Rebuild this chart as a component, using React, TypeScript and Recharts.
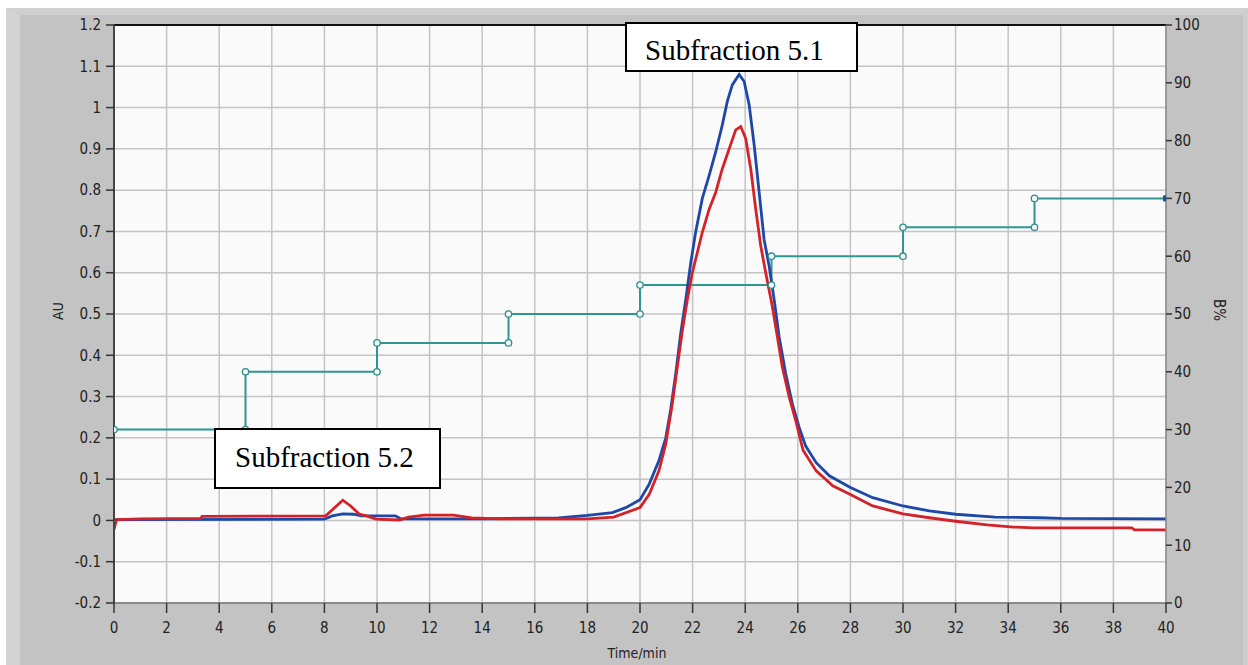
import React from 'react';
import { ComposedChart, Line, XAxis, YAxis, CartesianGrid, ReferenceLine } from 'recharts';

// Time ticks (min), AU ticks, B% ticks
const timeTicks = [0, 2, 4, 6, 8, 10, 12, 14, 16, 18, 20, 22, 24, 26, 28, 30, 32, 34, 36, 38, 40];
const auTicks = [-0.2, -0.1, 0, 0.1, 0.2, 0.3, 0.4, 0.5, 0.6, 0.7, 0.8, 0.9, 1.0, 1.1, 1.2];
const bTicks = [0, 10, 20, 30, 40, 50, 60, 70, 80, 90, 100];

// Blue trace
const blueTime = [0, 8.0, 8.3, 8.7, 9.1, 9.4, 10.7, 10.9, 14, 16.9, 18, 18.95, 19.46, 20, 20.35, 20.72, 20.98, 21.17, 21.36, 21.55, 21.74, 21.93, 22.12, 22.37, 22.63, 22.88, 23.13, 23.32, 23.51, 23.77, 23.96, 24.15, 24.34, 24.53, 24.72, 24.91, 25.1, 25.29, 25.54, 25.79, 26.05, 26.3, 26.7, 27.2, 28, 28.85, 30, 31, 32, 33.5, 35.2, 36, 40];
const blueAU = [0.002, 0.003, 0.011, 0.016, 0.015, 0.011, 0.011, 0.004, 0.004, 0.006, 0.012, 0.019, 0.031, 0.05, 0.088, 0.145, 0.2, 0.27, 0.356, 0.454, 0.535, 0.624, 0.7, 0.78, 0.836, 0.893, 0.958, 1.015, 1.055, 1.08, 1.063, 1.007, 0.91, 0.795, 0.68, 0.616, 0.535, 0.445, 0.356, 0.283, 0.226, 0.18, 0.14, 0.108, 0.08, 0.055, 0.035, 0.023, 0.015, 0.008, 0.0065, 0.005, 0.004];

// Red trace
const redTime = [0, 0.08, 0.12, 1.0, 3.3, 3.35, 8.05, 8.2, 8.7, 9.0, 9.33, 9.6, 9.96, 10.85, 11.2, 11.8, 12.9, 13.6, 14.7, 18, 19, 20, 20.35, 20.72, 20.98, 21.23, 21.42, 21.61, 21.8, 21.99, 22.18, 22.37, 22.63, 22.88, 23.13, 23.39, 23.64, 23.83, 24.02, 24.21, 24.4, 24.59, 24.78, 25.03, 25.22, 25.41, 25.67, 25.92, 26.2, 26.7, 27.33, 28, 28.85, 30, 31, 32, 33.2, 34.2, 35, 38.7, 38.8, 40];
const redAU = [-0.022, -0.002, 0.002, 0.004, 0.005, 0.01, 0.011, 0.02, 0.049, 0.035, 0.015, 0.011, 0.003, 0.001, 0.008, 0.013, 0.013, 0.006, 0.004, 0.004, 0.008, 0.031, 0.063, 0.12, 0.185, 0.283, 0.372, 0.46, 0.535, 0.6, 0.649, 0.698, 0.754, 0.795, 0.852, 0.9, 0.946, 0.954, 0.925, 0.852, 0.754, 0.665, 0.6, 0.519, 0.446, 0.372, 0.3, 0.242, 0.17, 0.12, 0.084, 0.063, 0.035, 0.016, 0.0065, -0.002, -0.011, -0.016, -0.018, -0.018, -0.023, -0.023];

// Gradient B% (step program)
const gradTime = [0, 5, 5, 10, 10, 15, 15, 20, 20, 25, 25, 30, 30, 35, 35, 40];
const gradB = [30, 30, 40, 40, 45, 45, 50, 50, 55, 55, 60, 60, 65, 65, 70, 70];

const blueData = blueTime.map((t, i) => ({ t, v: blueAU[i] }));
const redData = redTime.map((t, i) => ({ t, v: redAU[i] }));
const gradData = gradTime.map((t, i) => ({ t, b: gradB[i] }));

const TICK_FONT = "'DejaVu Sans Condensed', 'Liberation Sans Narrow', 'DejaVu Sans', sans-serif";
const tickStyle = { fontFamily: TICK_FONT, fontSize: 15, fill: '#222' };

const GradDot = (props: any) => {
  const { cx, cy, index } = props;
  if (cx == null || cy == null) return <g key={`d${index}`} />;
  if (index === gradData.length - 1) {
    return <rect key={`d${index}`} x={cx - 3} y={cy - 3} width={6} height={6} fill="#1f4fa0" />;
  }
  return <circle key={`d${index}`} cx={cx} cy={cy} r={3.2} fill="#f4f4f4" stroke="#2f8f8a" strokeWidth={1.3} />;
};

export default function App() {
  return (
    <div style={{ position: 'absolute', left: 0, top: 0, width: 1248, height: 665, background: '#ffffff', overflow: 'hidden' }}>
      <div style={{ position: 'absolute', left: 6, top: 8, width: 1242, height: 657, background: '#c3c3c3', boxSizing: 'border-box', borderLeft: '14px solid #d3d3d3', borderTop: '7px solid #d0d0d0', borderRight: '5px solid #cecece' }} />
      <div style={{ position: 'absolute', left: 0, top: 0 }}>
        <ComposedChart width={1248} height={665} margin={{ top: 25, right: 0, bottom: 0, left: 0 }}>
          <CartesianGrid yAxisId="left" xAxisId="x" stroke="#c4c4c4" strokeWidth={1.5} fill="#fafafa" />
          <XAxis xAxisId="x" dataKey="t" type="number" domain={[0, 40]} ticks={timeTicks} height={62}
            allowDataOverflow tick={tickStyle} tickSize={10} tickMargin={9}
            axisLine={{ stroke: '#8a8a8a', strokeWidth: 2 }} tickLine={{ stroke: '#333', strokeWidth: 1.5 }}
            label={{ value: 'Time/min', position: 'center', dy: 19, dx: -3, style: { fontFamily: TICK_FONT, fontSize: 14, fill: '#222' } }} />
          <YAxis yAxisId="left" orientation="left" type="number" domain={[-0.2, 1.2]} ticks={auTicks} width={114}
            allowDataOverflow tick={tickStyle} tickSize={8} tickMargin={5}
            tickFormatter={(v: number) => String(Math.round(v * 10) / 10)}
            axisLine={{ stroke: '#444', strokeWidth: 2 }} tickLine={{ stroke: '#333', strokeWidth: 1.5 }}
            label={{ value: 'AU', angle: -90, position: 'center', dx: 1, dy: -3, style: { fontFamily: TICK_FONT, fontSize: 14, fill: '#222' } }} />
          <YAxis yAxisId="right" orientation="right" type="number" domain={[0, 100]} ticks={bTicks} width={82}
            allowDataOverflow tick={tickStyle} tickSize={6} tickMargin={2}
            axisLine={{ stroke: '#8a8a8a', strokeWidth: 1.5 }} tickLine={{ stroke: '#333', strokeWidth: 1.5 }}
            label={{ value: 'B%', angle: 90, position: 'center', dx: 12, dy: -4, style: { fontFamily: TICK_FONT, fontSize: 15, fill: '#222' } }} />
          <ReferenceLine xAxisId="x" yAxisId="left" y={1.2} stroke="#111" strokeWidth={2} />
          <Line xAxisId="x" yAxisId="right" data={gradData} dataKey="b" type="linear" stroke="#2f9690" strokeWidth={2}
            dot={GradDot} activeDot={false} isAnimationActive={false} />
          <Line xAxisId="x" yAxisId="left" data={blueData} dataKey="v" type="linear" stroke="#1e48a8" strokeWidth={2.8}
            dot={false} activeDot={false} isAnimationActive={false} />
          <Line xAxisId="x" yAxisId="left" data={redData} dataKey="v" type="linear" stroke="#d42228" strokeWidth={2.8}
            dot={false} activeDot={false} isAnimationActive={false} />
        </ComposedChart>
      </div>
      <svg width={1248} height={665} style={{ position: 'absolute', left: 0, top: 0, pointerEvents: 'none' }}>
        <rect x={626} y={23} width={231} height={48} fill="#ffffff" stroke="#000" strokeWidth={2} />
        <text x={645} y={60} fontFamily="'Liberation Serif', 'Times New Roman', serif" fontSize={29} fill="#000">Subfraction 5.1</text>
        <rect x={215} y={429} width={225} height={59} fill="#ffffff" stroke="#000" strokeWidth={2} />
        <text x={235} y={467} fontFamily="'Liberation Serif', 'Times New Roman', serif" fontSize={29} fill="#000">Subfraction 5.2</text>
      </svg>
    </div>
  );
}
